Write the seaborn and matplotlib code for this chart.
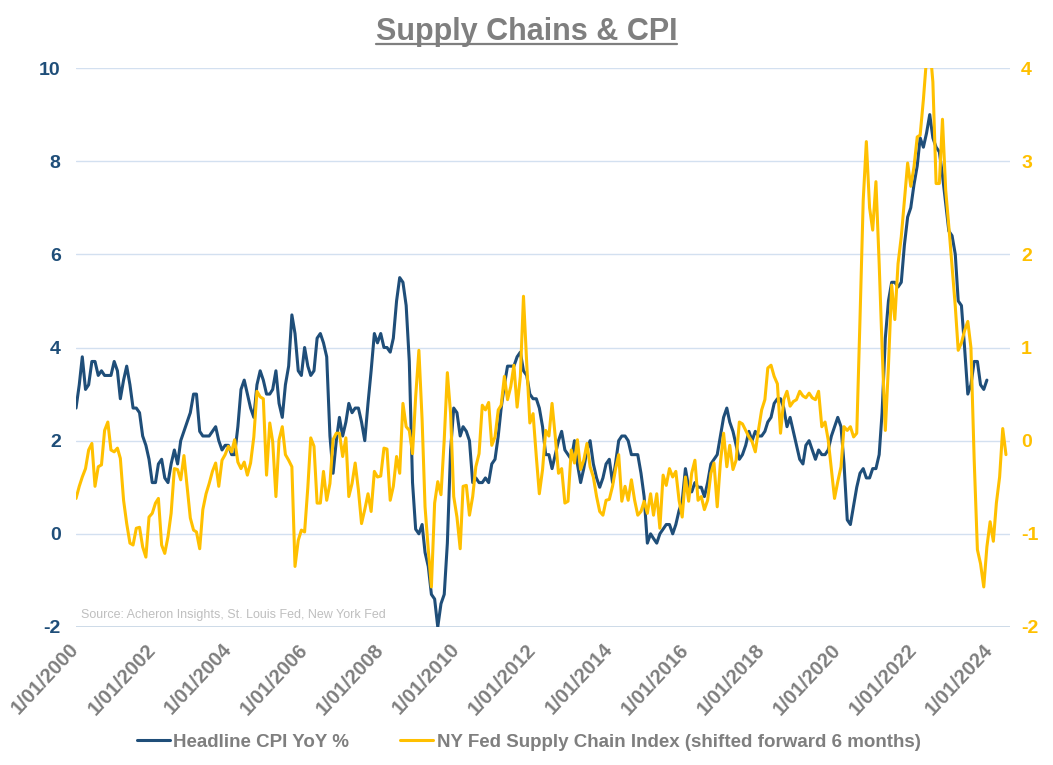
import pandas as pd
import seaborn as sns
import matplotlib.pyplot as plt
from matplotlib.lines import Line2D

# Headline CPI YoY %, monthly from Jan 2000 to Dec 2023
cpi_yoy = [
    2.7, 3.2, 3.8, 3.1, 3.2, 3.7, 3.7, 3.4, 3.5, 3.4, 3.4, 3.4,   # 2000
    3.7, 3.5, 2.9, 3.3, 3.6, 3.2, 2.7, 2.7, 2.6, 2.1, 1.9, 1.6,   # 2001
    1.1, 1.1, 1.5, 1.6, 1.2, 1.1, 1.5, 1.8, 1.5, 2.0, 2.2, 2.4,   # 2002
    2.6, 3.0, 3.0, 2.2, 2.1, 2.1, 2.1, 2.2, 2.3, 2.0, 1.8, 1.9,   # 2003
    1.9, 1.7, 1.7, 2.3, 3.1, 3.3, 3.0, 2.7, 2.5, 3.2, 3.5, 3.3,   # 2004
    3.0, 3.0, 3.1, 3.5, 2.8, 2.5, 3.2, 3.6, 4.7, 4.3, 3.5, 3.4,   # 2005
    4.0, 3.6, 3.4, 3.5, 4.2, 4.3, 4.1, 3.8, 2.1, 1.3, 2.0, 2.5,   # 2006
    2.1, 2.4, 2.8, 2.6, 2.7, 2.7, 2.4, 2.0, 2.8, 3.5, 4.3, 4.1,   # 2007
    4.3, 4.0, 4.0, 3.9, 4.2, 5.0, 5.5, 5.4, 4.9, 3.7, 1.1, 0.1,   # 2008
    0.0, 0.2, -0.4, -0.7, -1.3, -1.4, -2.0, -1.5, -1.3, -0.2, 1.8, 2.7,   # 2009
    2.6, 2.1, 2.3, 2.2, 2.0, 1.1, 1.2, 1.1, 1.1, 1.2, 1.1, 1.5,   # 2010
    1.6, 2.1, 2.7, 3.2, 3.6, 3.6, 3.6, 3.8, 3.9, 3.5, 3.4, 3.0,   # 2011
    2.9, 2.9, 2.7, 2.3, 1.7, 1.7, 1.4, 1.7, 2.0, 2.2, 1.8, 1.7,   # 2012
    1.6, 2.0, 1.5, 1.1, 1.4, 1.8, 2.0, 1.5, 1.2, 1.0, 1.2, 1.5,   # 2013
    1.6, 1.1, 1.5, 2.0, 2.1, 2.1, 2.0, 1.7, 1.7, 1.7, 1.3, 0.8,   # 2014
    -0.2, 0.0, -0.1, -0.2, 0.0, 0.1, 0.2, 0.2, 0.0, 0.2, 0.5, 0.7,   # 2015
    1.4, 1.0, 0.9, 1.1, 1.0, 1.0, 0.8, 1.1, 1.5, 1.6, 1.7, 2.1,   # 2016
    2.5, 2.7, 2.4, 2.2, 1.9, 1.6, 1.7, 1.9, 2.2, 2.0, 2.2, 2.1,   # 2017
    2.1, 2.2, 2.4, 2.5, 2.8, 2.9, 2.9, 2.7, 2.3, 2.5, 2.2, 1.9,   # 2018
    1.6, 1.5, 1.9, 2.0, 1.8, 1.6, 1.8, 1.7, 1.7, 1.8, 2.1, 2.3,   # 2019
    2.5, 2.3, 1.5, 0.3, 0.2, 0.6, 1.0, 1.3, 1.4, 1.2, 1.2, 1.4,   # 2020
    1.4, 1.7, 2.6, 4.2, 5.0, 5.4, 5.4, 5.3, 5.4, 6.2, 6.8, 7.0,   # 2021
    7.5, 7.9, 8.5, 8.3, 8.6, 9.0, 8.5, 8.3, 8.2, 7.7, 7.1, 6.5,   # 2022
    6.4, 6.0, 5.0, 4.9, 4.0, 3.0, 3.2, 3.7, 3.7, 3.2, 3.1, 3.3,   # 2023
]

# NY Fed supply chain index shifted forward 6 months, monthly Jan 2000 - Jun 2024
supply_chain_idx = [
    -0.62, -0.49, -0.39, -0.30, -0.10, -0.03, -0.49, -0.28, -0.26, 0.11, 0.20, -0.10,
    -0.12, -0.08, -0.19, -0.64, -0.89, -1.10, -1.12, -0.94, -0.93, -1.14, -1.25, -0.82,
    -0.78, -0.67, -0.62, -1.12, -1.21, -1.03, -0.78, -0.30, -0.31, -0.42, -0.16, -0.49,
    -0.83, -0.96, -0.98, -1.16, -0.74, -0.57, -0.46, -0.33, -0.24, -0.49, -0.21, -0.15,
    -0.06, -0.12, 0.01, -0.23, -0.30, -0.23, -0.37, -0.24, 0.04, 0.53, 0.47, 0.45,
    -0.37, 0.19, -0.01, -0.60, 0.01, 0.15, -0.15, -0.21, -0.28, -1.35, -1.07, -0.96,
    -0.98, -0.50, 0.03, -0.06, -0.67, -0.67, -0.33, -0.64, -0.46, 0.01, 0.08, 0.08,
    -0.17, 0.03, -0.60, -0.46, -0.24, -0.53, -0.89, -0.74, -0.57, -0.76, -0.33, -0.39,
    -0.38, -0.08, -0.09, -0.64, -0.49, -0.17, -0.35, 0.40, 0.15, 0.11, -0.14, 0.47,
    0.97, 0.22, -0.71, -1.17, -1.57, -0.67, -0.44, -0.58, 0.01, 0.73, 0.29, -0.60,
    -0.82, -1.16, -0.49, -0.48, -0.80, -0.60, -0.28, -0.14, 0.38, 0.33, 0.41, -0.05,
    0.04, 0.33, 0.38, 0.69, 0.44, 0.58, 0.81, 0.36, 0.69, 1.55, 0.83, 0.19,
    0.29, -0.17, -0.57, -0.31, 0.11, 0.05, 0.40, 0.04, -0.35, -0.30, -0.67, -0.65,
    -0.10, -0.24, 0.01, -0.31, -0.21, -0.03, -0.28, -0.39, -0.60, -0.76, -0.80, -0.64,
    -0.63, -0.49, -0.31, -0.15, -0.65, -0.49, -0.64, -0.42, -0.64, -0.80, -0.76, -0.65,
    -0.78, -0.57, -0.80, -0.57, -0.94, -0.37, -0.48, -0.30, -0.39, -0.33, -0.64, -0.82,
    -0.39, -0.65, -0.35, -0.21, -0.64, -0.60, -0.74, -0.64, -0.35, -0.24, -0.71, -0.24,
    0.08, -0.28, -0.05, -0.31, -0.21, 0.20, 0.18, 0.11, 0.04, -0.01, -0.12, 0.11,
    0.33, 0.44, 0.78, 0.81, 0.69, 0.61, 0.08, 0.44, 0.53, 0.37, 0.42, 0.44,
    0.53, 0.48, 0.46, 0.51, 0.46, 0.44, 0.53, 0.15, 0.20, 0.01, -0.31, -0.62,
    -0.44, -0.28, 0.15, 0.11, 0.15, 0.04, 0.08, 1.30, 2.58, 3.21, 2.50, 2.26,
    2.78, 1.90, 1.00, 0.11, 0.80, 1.67, 1.30, 1.90, 2.19, 2.58, 2.98, 2.73,
    2.94, 3.26, 3.28, 3.66, 4.10, 4.25, 3.85, 2.76, 2.76, 3.45, 2.69, 2.30,
    1.87, 1.44, 0.97, 1.05, 1.18, 1.28, 1.00, -0.20, -1.17, -1.32, -1.57, -1.14,
    -0.87, -1.08, -0.67, -0.39, 0.13, -0.15,
]

tick_years = list(range(2000, 2025, 2))
left_ticks = [-2, 0, 2, 4, 6, 8, 10]
right_ticks = [-2, -1, 0, 1, 2, 3, 4]

cpi_label = "Headline CPI YoY %"
sc_label = "NY Fed Supply Chain Index (shifted forward 6 months)"
title = "Supply Chains & CPI"
source = "Source: Acheron Insights, St. Louis Fed, New York Fed"

BLUE = "#1F4E79"
GOLD = "#FFC000"
GREY = "#7F7F7F"
GRID = "#D3E0F0"

cpi_df = pd.DataFrame({
    "date": pd.date_range("2000-01-01", periods=len(cpi_yoy), freq="MS"),
    "value": cpi_yoy,
})
sc_df = pd.DataFrame({
    "date": pd.date_range("2000-01-01", periods=len(supply_chain_idx), freq="MS"),
    "value": supply_chain_idx,
})

sns.set_style("white")
plt.rcParams["font.family"] = ["Liberation Sans", "DejaVu Sans"]

fig = plt.figure(figsize=(10.53, 7.65), dpi=100)
ax = fig.add_axes([0.0722, 0.1804, 0.8870, 0.7307])
ax2 = ax.twinx()

sns.lineplot(data=cpi_df, x="date", y="value", ax=ax, color=BLUE, lw=2.2, label=cpi_label)
sns.lineplot(data=sc_df, x="date", y="value", ax=ax2, color=GOLD, lw=2.2, label=sc_label)

h1, l1 = ax.get_legend_handles_labels()
h2, l2 = ax2.get_legend_handles_labels()
ax.get_legend().remove()
ax2.get_legend().remove()

ax.set_xlim(pd.Timestamp("2000-01-01"), pd.Timestamp("2024-07-10"))
ax.set_ylim(-2, 10)
ax2.set_ylim(-2, 4)

ax.set_yticks(left_ticks)
ax.set_yticklabels([str(t) for t in left_ticks], color=BLUE, fontsize=14, fontweight="bold")
ax2.set_yticks(right_ticks)
ax2.set_yticklabels([str(t) for t in right_ticks], color=GOLD, fontsize=14, fontweight="bold")

tick_dates = [pd.Timestamp(f"{y}-01-01") for y in tick_years]
ax.set_xticks(tick_dates)
ax.set_xticklabels([f"1/01/{y}" for y in tick_years], rotation=47, ha="right",
                   va="center", rotation_mode="anchor", color=GREY,
                   fontsize=14.5, fontweight="bold")

for a in (ax, ax2):
    a.set_xlabel("")
    a.set_ylabel("")
    for s in a.spines.values():
        s.set_visible(False)
    a.tick_params(length=0)
ax.tick_params(axis="y", pad=11)
ax2.tick_params(axis="y", pad=8)
ax.tick_params(axis="x", pad=14)

ax.yaxis.grid(True, color=GRID, lw=1)
ax.set_axisbelow(True)
ax.axhline(-2, color="#C5D3E3", lw=1.2, zorder=0)

ax.text(0.005, 0.01, source, transform=ax.transAxes, color="#BFBFBF",
        fontsize=9, va="bottom")

t = fig.text(0.5, 0.958, title, ha="center", va="center", color=GREY,
             fontsize=22, fontweight="bold")

fig.legend(h1 + h2, l1 + l2, loc="center", bbox_to_anchor=(0.502, 0.030), ncol=2,
           frameon=False, prop={"size": 13.5, "weight": "bold"}, labelcolor=GREY,
           handlelength=1.75, columnspacing=2.7, handletextpad=0.2)

# underline the title
fig.canvas.draw()
bb = t.get_window_extent().transformed(fig.transFigure.inverted())
fig.add_artist(Line2D([bb.x0, bb.x1], [bb.y0 + 0.004, bb.y0 + 0.004],
                      color=GREY, lw=1.6, transform=fig.transFigure))

fig.savefig("out.png", dpi=100)
